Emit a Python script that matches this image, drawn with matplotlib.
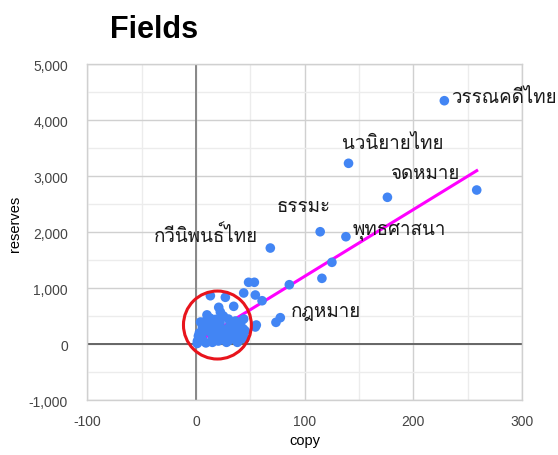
import matplotlib
matplotlib.use("Agg")
import matplotlib.pyplot as plt
from matplotlib import font_manager as fm
from matplotlib.ft2font import FT2Font
from matplotlib.patches import Ellipse
from matplotlib.ticker import MultipleLocator, StrMethodFormatter
import numpy as np

# values
copy_vals = [228.5, 140.3, 176.1, 258.3, 114.2, 137.9, 68.3, 125.0, 115.8, 85.8,
             77.5, 73.5, 48.3, 53.6, 43.8, 54.5, 60.7, 13.1, 26.9, 34.6,
             20.8, 22.3, 55.4, 54.5, 43.8, 43.5,
             4.0, 11.3, 25.1, 29.7, 36.1, 38.9, 45.3, 33.1, 17.7, 8.5,
             2.1, 1.2, 6.7, 15.0, 20.5, 26.9, 34.3, 26.9, 20.5, 13.1,
             5.8, 1.0, 3.0, 5.0, 9.0, 12.0, 17.0, 22.0, 24.0, 30.0,
             31.0, 38.0, 40.0, 18.0, 10.0, 28.0, 15.0, 3.0, 36.0,
             42.0, 45.0, 38.0, 32.0, 24.0, 19.0, 8.0, 13.0, 41.0]
reserves_vals = [4345, 3227, 2620, 2750, 2005, 1916, 1714, 1459, 1173, 1059,
                 470, 387, 1102, 1102, 911, 875, 773, 862, 834, 673,
                 655, 571, 339, 304, 446, 268,
                 393, 411, 500, 446, 411, 321, 232, 268, 321, 232,
                 143, 54, 54, 125, 54, 125, 125, 214, 214, 214,
                 304, 10, 200, 120, 20, 300, 170, 380, 270, 60,
                 330, 200, 80, 440, 520, 30, 30, 60, 280,
                 150, 100, 30, 180, 100, 380, 400, 460, 370]

# labelled points: index into the arrays above
label_names = ["วรรณคดีไทย", "นวนิยายไทย", "จดหมาย", "ธรรมะ",
               "พุทธศาสนา", "กวีนิพนธ์ไทย", "กฎหมาย"]
label_idx = [0, 1, 2, 4, 5, 6, 10]

# trendline
trend_slope = 11.91
trend_intercept = 19.0

# highlight circle (centre, width, height in data units)
circle_center = (19.6, 339)
circle_size = (62.5, 1214)


def find_thai_font():
    for f in fm.fontManager.ttflist:
        try:
            if ord("ก") in FT2Font(f.fname).get_charmap():
                return f.name
        except Exception:
            pass
    return "DejaVu Sans"


thai_font = find_thai_font()
plt.rcParams["font.family"] = ["Liberation Sans", "DejaVu Sans"]
plt.rcParams["axes.unicode_minus"] = False

fig = plt.figure(figsize=(5.58, 4.56), dpi=100)
ax = fig.add_axes([0.1568, 0.1206, 0.7787, 0.7368])

ax.set_xlim(-100, 300)
ax.set_ylim(-1000, 5000)
ax.xaxis.set_major_locator(MultipleLocator(100))
ax.xaxis.set_minor_locator(MultipleLocator(50))
ax.yaxis.set_major_locator(MultipleLocator(1000))
ax.yaxis.set_minor_locator(MultipleLocator(500))
ax.yaxis.set_major_formatter(StrMethodFormatter("{x:,.0f}"))
ax.xaxis.set_major_formatter(StrMethodFormatter("{x:.0f}"))
ax.grid(which="major", color="#d0d0d0", lw=1.0, zorder=0)
ax.grid(which="minor", color="#ececec", lw=1.0, zorder=0)
ax.set_axisbelow(True)
for s in ax.spines.values():
    s.set_color("#d0d0d0")
    s.set_linewidth(1.0)
ax.tick_params(which="both", length=0, colors="#444444", labelsize=10)
ax.tick_params(axis="x", pad=10)
ax.tick_params(axis="y", pad=14)

ax.axhline(0, color="#666666", lw=1.4, zorder=1)
ax.axvline(0, color="#888888", lw=1.4, zorder=1)

tx = np.array([min(copy_vals), max(copy_vals)])
ax.plot(tx, trend_slope * tx + trend_intercept, color="#ff00ff", lw=2.2, zorder=2)

ax.scatter(copy_vals, reserves_vals, s=48, color="#4285f4", edgecolors="none", zorder=3)

# label offsets in pixels (dx, dy) and alignment
offsets = [(7, -1), (-7, 15), (3, 19), (-43, 21), (7, 4), (-12, 7), (11, 2)]
aligns = ["left", "left", "left", "left", "left", "right", "left"]
for name, i, off, ha in zip(label_names, label_idx, offsets, aligns):
    ax.annotate(name, (copy_vals[i], reserves_vals[i]), xytext=off,
                textcoords="offset pixels", ha=ha, va="baseline",
                fontsize=13.5, family=[thai_font, "DejaVu Sans"], color="#1a1a1a",
                zorder=4, annotation_clip=False)

ax.add_patch(Ellipse(circle_center, circle_size[0], circle_size[1], fill=False,
                     edgecolor="#e8141c", lw=2.2, zorder=5))

fig.text(0.197, 0.916, "Fields", fontsize=22, fontweight="bold", ha="left", va="baseline")
fig.text(0.546, 0.017, "copy", fontsize=10.5, ha="center", va="bottom")
fig.text(0.027, 0.51, "reserves", fontsize=10.5, rotation=90, ha="center", va="center")

fig.savefig("out.png", dpi=100)
